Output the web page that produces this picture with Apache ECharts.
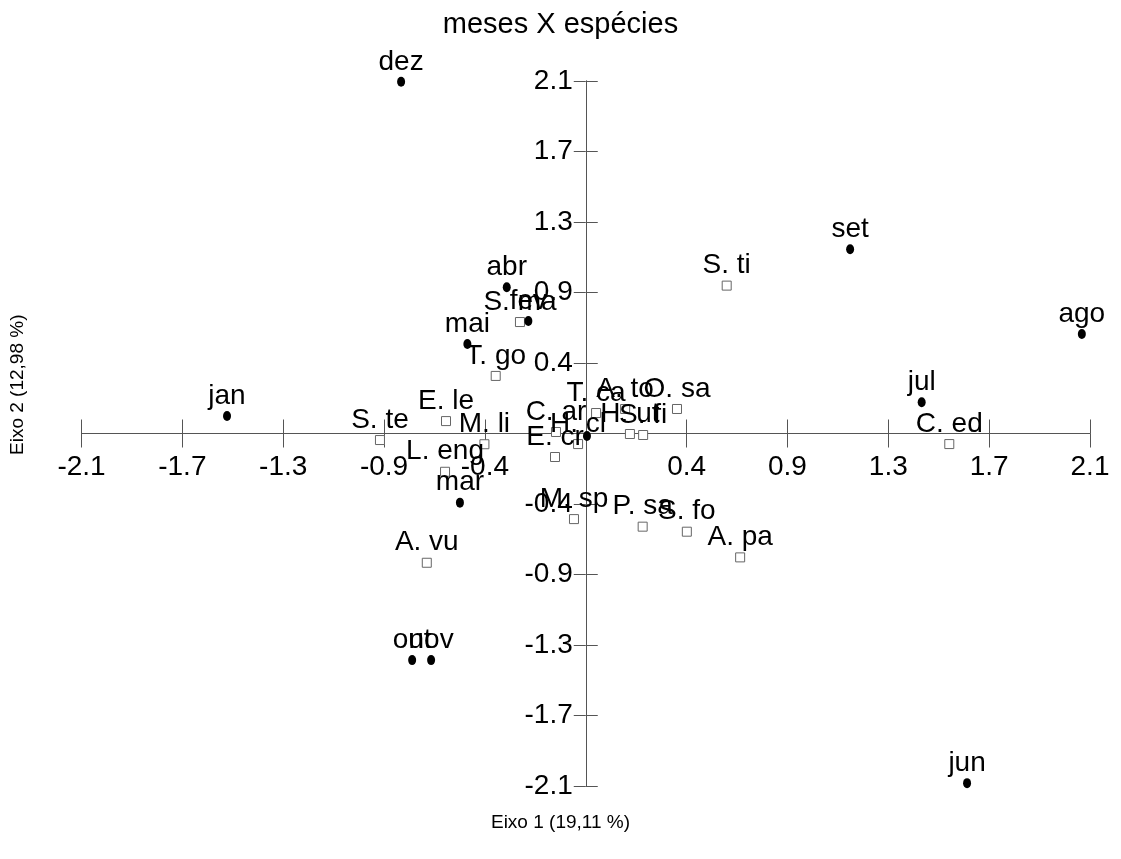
<!DOCTYPE html>
<html>
<head>
<meta charset="utf-8">
<script src="https://cdn.jsdelivr.net/npm/echarts@6/dist/echarts.min.js"></script>
<style>
html,body{margin:0;padding:0;background:#fff;}
#chart{width:1121px;height:859px;}
</style>
</head>
<body>
<div id="chart"></div>
<script>
// Tick labels as printed on the reference (ticks every 0.42 units)
const tickLabels = ['-2.1','-1.7','-1.3','-0.9','-0.4','','0.4','0.9','1.3','1.7','2.1'];

// Months (filled circles)
const months  = ['jan','fev','mar','abr','mai','jun','jul','ago','set','out','nov','dez'];
const monthX  = [-1.494,-0.239,-0.524,-0.329,-0.493, 1.588, 1.399, 2.066, 1.101,-0.723,-0.644,-0.769];
const monthY  = [ 0.104, 0.670,-0.412, 0.871, 0.533,-2.083, 0.186, 0.593, 1.098,-1.350,-1.350, 2.095];

// Species (open squares)
const species  = ['S. ti','C. ed','A. pa','S. fo','P. sa','M. sp','A. vu','L. eng','S. te','E. le','M. li','T. go','S. ma','T. ca','O. sa','C. ar','E. cr','H. cl','H. ut','S. fi','A. to'];
const speciesX = [ 0.587, 1.514, 0.643, 0.421, 0.237,-0.049,-0.662,-0.586,-0.857,-0.582,-0.422,-0.375,-0.274, 0.043, 0.380,-0.124,-0.128,-0.032, 0.184, 0.239, 0.164];
const speciesY = [ 0.881,-0.063,-0.738,-0.585,-0.555,-0.510,-0.770,-0.228,-0.039, 0.074,-0.064, 0.343, 0.664, 0.122, 0.146, 0.009,-0.140,-0.063,-0.003,-0.009, 0.146];

// Unlabelled dot near origin
const centerX = [0.005];
const centerY = [-0.015];

const FONT = "'Liberation Sans', Arial, Helvetica, sans-serif";
const step = 0.42;
const fmt = v => { const i = Math.round(v / step) + 5; return tickLabels[i] !== undefined ? tickLabels[i] : ''; };

const axisLineStyle = {color:'#555', width:1};

// grid geometry
const G = {left:81.5, right:31, top:81, bottom:73, W:1121, H:859};
const plotW = G.W - G.left - G.right;
const plotH = G.H - G.top - G.bottom;
const xOff = -(plotH / 2);   // move x axes from bottom edge to y = 0
const yOff = -(plotW / 2);   // move y axes from left edge to x = 0

function xAx(inside, showLabel){
  return {
    type:'value', min:-2.1, max:2.1, interval:step, position:'bottom', offset:xOff,
    axisLine:{show:true, onZero:false, lineStyle:axisLineStyle},
    axisTick:{show:true, inside:inside, length:14, lineStyle:axisLineStyle},
    axisLabel:{show:showLabel, formatter:fmt, fontSize:28, color:'#000', fontFamily:FONT, margin:20, showMinLabel:true, showMaxLabel:true},
    splitLine:{show:false}
  };
}
function yAx(inside, showLabel){
  return {
    type:'value', min:-2.1, max:2.1, interval:step, position:'left', offset:yOff,
    axisLine:{show:true, onZero:false, lineStyle:axisLineStyle},
    axisTick:{show:true, inside:inside, length:12, lineStyle:axisLineStyle},
    axisLabel:{show:showLabel, formatter:fmt, fontSize:28, color:'#000', fontFamily:FONT, margin:13, showMinLabel:true, showMaxLabel:true},
    splitLine:{show:false}
  };
}

const labelStyle = {show:true, position:'top', distance:1, fontSize:28, color:'#000', fontFamily:FONT, formatter: p => p.data[2]};

const chart = echarts.init(document.getElementById('chart'), null, {renderer:'canvas'});
chart.setOption({
  backgroundColor:'#fff',
  animation:false,
  title:{text:'meses X espécies', left:'center', top:5, textStyle:{fontSize:29, fontWeight:'normal', color:'#000', fontFamily:FONT}},
  grid:{left:G.left, right:G.right, top:G.top, bottom:G.bottom, containLabel:false},
  xAxis:[xAx(false,true), xAx(true,false)],
  yAxis:[yAx(false,true), yAx(true,false)],
  graphic:[
    {type:'text', left:'center', top:813, style:{text:'Eixo 1 (19,11 %)', fill:'#000', font:"19px 'Liberation Sans', Arial, sans-serif"}},
    {type:'text', x:8, y:455, rotation:Math.PI/2, style:{text:'Eixo 2 (12,98 %)', fill:'#000', font:"19px 'Liberation Sans', Arial, sans-serif"}}
  ],
  series:[
    {type:'scatter', name:'espécies', xAxisIndex:0, yAxisIndex:0, symbol:'rect', symbolSize:9, clip:false,
     itemStyle:{color:'#fff', borderColor:'#666', borderWidth:1, opacity:1},
     label:labelStyle,
     data:species.map((s,i)=>[speciesX[i], speciesY[i], s])},
    {type:'scatter', name:'meses', xAxisIndex:0, yAxisIndex:0, symbol:'circle', symbolSize:[8,10], clip:false,
     itemStyle:{color:'#000', opacity:1},
     label:labelStyle,
     data:months.map((m,i)=>[monthX[i], monthY[i], m])},
    {type:'scatter', name:'origem', xAxisIndex:0, yAxisIndex:0, symbol:'circle', symbolSize:[8,10], clip:false,
     itemStyle:{color:'#000', opacity:1}, label:{show:false},
     data:centerX.map((x,i)=>[x, centerY[i]])}
  ]
});
</script>
</body>
</html>
